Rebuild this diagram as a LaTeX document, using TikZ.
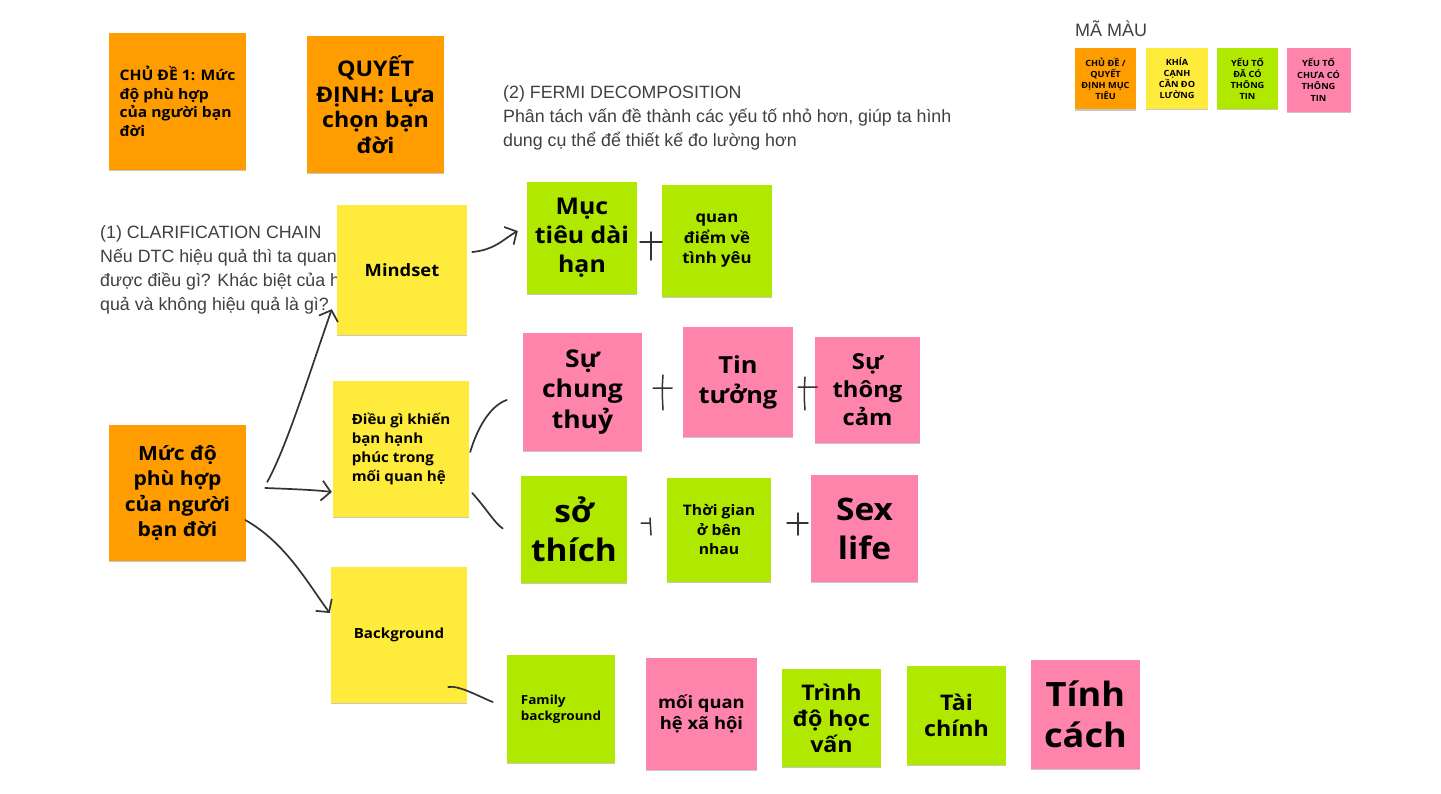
\documentclass[tikz,border=0pt]{standalone}
\usepackage{fontspec}
\setmainfont{Liberation Sans}
\newfontfamily\mont{Open Sans}[FakeStretch=1.08]
\usetikzlibrary{calc,shadows,arrows.meta}
\definecolor{corange}{RGB}{255,157,0}
\definecolor{cyellow}{RGB}{255,235,59}
\definecolor{cgreen}{RGB}{176,232,0}
\definecolor{cpink}{RGB}{255,132,172}
\definecolor{cgray}{RGB}{64,64,64}
\definecolor{cpen}{RGB}{51,51,51}
\tikzset{
  note/.style={inner sep=0pt, align=center, text=black,
    drop shadow={opacity=0.22, shadow xshift=0.4pt, shadow yshift=-1.4pt, fill=black}},
  mfont/.style 2 args={font=\mont\bfseries\fontsize{#1}{#2}\selectfont},
  body/.style={font=\fontsize{17.8}{24}\selectfont, text=cgray, align=left, inner sep=0pt},
  hand/.style={draw=cpen, line width=1.7pt, line cap=round, line join=round},
  handarrow/.style={hand, -{Straight Barb[length=9pt,width=20pt,line width=1.7pt]}},
}
\begin{document}
\begin{tikzpicture}[x=1pt,y=-1pt]
\useasboundingbox[fill=white] (0,0) rectangle (1441,794);

% body texts
\node[body, anchor=north west] (txtfermi) at (503,85) {(2) FERMI DECOMPOSITION\\Phân tách vấn đề thành các yếu tố nhỏ hơn, giúp ta hình\\dung cụ thể để thiết kế đo lường hơn};
\node[body, anchor=north west] (txtclar) at (100,225) {(1) CLARIFICATION CHAIN\\Nếu DTC hiệu quả thì ta quan sát\\được điều gì? Khác biệt của hiệu\\quả và không hiệu quả là gì?};
\node[font=\fontsize{18}{22}\selectfont, text=cgray, anchor=north west, inner sep=0pt] (txtlegend) at (1075,21) {MÃ MÀU};

% top orange notes
\node[note, fill=corange, minimum width=137pt, minimum height=137pt, mfont={14.5}{18.5}, align=left] (topic) at (177.5,101.5) {CHỦ ĐỀ 1: Mức\\độ phù hợp\\của người bạn\\đời};
\node[note, fill=corange, minimum width=137pt, minimum height=137pt, mfont={21.5}{25.5}] (decision) at (375.5,104.5) {QUYẾT\\ĐỊNH: Lựa\\chọn bạn\\đời};

% legend
\node[note, fill=corange, minimum width=61pt, minimum height=61pt, mfont={8.5}{11}] (lg1) at (1105.5,79) {CHỦ ĐỀ /\\QUYẾT\\ĐỊNH MỤC\\TIÊU};
\node[note, fill=cyellow, minimum width=62pt, minimum height=61pt, mfont={8.5}{11}] (lg2) at (1177,78.5) {KHÍA\\CẠNH\\CẦN ĐO\\LƯỜNG};
\node[note, fill=cgreen, minimum width=61pt, minimum height=61pt, mfont={8.5}{11}] (lg3) at (1247.5,78.5) {YẾU TỐ\\ĐÃ CÓ\\THÔNG\\TIN};
\node[note, fill=cpink, minimum width=64pt, minimum height=64pt, mfont={8.5}{11.5}] (lg4) at (1318.5,80) {YẾU TỐ\\CHƯA CÓ\\THÔNG\\TIN};

% main + yellow
\node[note, fill=corange, minimum width=137pt, minimum height=136pt, mfont={19.5}{25.3}] (main) at (177.5,493) {Mức độ\\phù hợp\\của người\\bạn đời};
\node[note, fill=cyellow, minimum width=130pt, minimum height=130pt, mfont={17}{20}] (mindset) at (402,270) {Mindset};
\node[note, fill=cyellow, minimum width=136pt, minimum height=136pt, mfont={14}{18.7}, align=left] (dieugi) at (401,449) {Điều gì khiến\\bạn hạnh\\phúc trong\\mối quan hệ};
\node[note, fill=cyellow, minimum width=136pt, minimum height=136pt, mfont={14}{18}] (background) at (399,635) {Background};

% row 1
\node[note, fill=cgreen, minimum width=110pt, minimum height=112pt, mfont={23}{29}] (muctieu) at (582,238) {Mục\\tiêu dài\\hạn};
\node[note, fill=cgreen, minimum width=110pt, minimum height=112pt, mfont={15.5}{20.5}] (quandiem) at (717,241) {quan\\điểm về\\tình yêu};

% row 2
\node[note, fill=cpink, minimum width=119pt, minimum height=118pt, mfont={24.5}{30.5}] (chungthuy) at (582.5,392) {Sự\\chung\\thuỷ};
\node[note, fill=cpink, minimum width=110pt, minimum height=110pt, mfont={23.5}{30}] (tintuong) at (738,382) {Tin\\tưởng};
\node[note, fill=cpink, minimum width=105pt, minimum height=106pt, mfont={22}{28}] (thongcam) at (867.5,390) {Sự\\thông\\cảm};

% row 3
\node[note, fill=cgreen, minimum width=106pt, minimum height=107pt, mfont={31}{39}] (sothich) at (574,529.5) {sở\\thích};
\node[note, fill=cgreen, minimum width=104pt, minimum height=104pt, mfont={14.5}{19.5}] (thoigian) at (719,530) {Thời gian\\ở bên\\nhau};
\node[note, fill=cpink, minimum width=107pt, minimum height=107pt, mfont={31}{39}] (sexlife) at (864.5,528.5) {Sex\\life};

% bottom row
\node[note, fill=cgreen, minimum width=108pt, minimum height=108pt, mfont={12.5}{16.5}, align=left] (family) at (561,709) {Family\\background};
\node[note, fill=cpink, minimum width=111pt, minimum height=112pt, mfont={17}{21.5}] (moiquan) at (701.5,714) {mối quan\\hệ xã hội};
\node[note, fill=cgreen, minimum width=99pt, minimum height=98pt, mfont={21.5}{26}] (trinhdo) at (831.5,718) {Trình\\độ học\\vấn};
\node[note, fill=cgreen, minimum width=99pt, minimum height=99pt, mfont={21.5}{26}] (taichinh) at (956.5,715.5) {Tài\\chính};
\node[note, fill=cpink, minimum width=109pt, minimum height=109pt, mfont={33.5}{41}] (tinhcach) at (1085.5,714.5) {Tính\\cách};

% hand-drawn connectors
\draw[handarrow] ($(main.east)+(21,-11)$) .. controls ($(main.east)+(40,-45)$) and ($(mindset.south west)+(-28,40)$) .. ($(mindset.south west)+(-5,-26)$);
\draw[handarrow] ($(main.east)+(19,-5)$) .. controls ($(main.east)+(45,-4)$) and ($(main.east)+(70,-3)$) .. ($(dieugi.west)+(-1,43)$);
\draw[handarrow] ($(main.east)+(-1,27)$) .. controls ($(main.east)+(40,50)$) and ($(background.west)+(-22,-50)$) .. ($(background.west)+(-1,-22)$);
\draw[handarrow] ($(mindset.east)+(5,-18)$) .. controls ($(mindset.east)+(28,-20)$) and ($(muctieu.west)+(-22,0)$) .. ($(muctieu.west)+(-9,-7)$);
\draw[hand] ($(dieugi.east)+(1,3)$) .. controls ($(dieugi.east)+(9,-24)$) and ($(chungthuy.west)+(-31,13)$) .. ($(chungthuy.west)+(-16,8)$);
\draw[hand] ($(dieugi.east)+(3,44)$) .. controls ($(dieugi.east)+(16,58)$) and ($(sothich.west)+(-26,-6)$) .. ($(sothich.west)+(-18,-1)$);
\draw[hand] ($(background.east)+(-19,52)$) .. controls ($(background.east)+(-8,50)$) and ($(family.west)+(-27,-12)$) .. ($(family.west)+(-14,-7)$);

% plus signs
\begin{scope}[hand, line width=1.5pt]
\draw (640,242) -- (662,242) (651,232) -- (651,260);
\draw (653,388) -- (672,388) (663,375) .. controls (662,390) .. (663,410);
\draw (798,387) -- (817,387) (805,377) .. controls (804,395) .. (805,410);
\draw (641,523) -- (650,523) (650,518) -- (651,535);
\draw (787,523) -- (808,523) (798,513) -- (798,535);
\end{scope}
\end{tikzpicture}
\end{document}
